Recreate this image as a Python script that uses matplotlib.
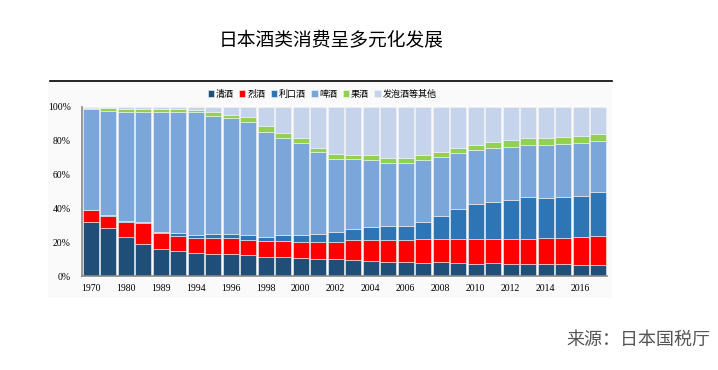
import numpy as np
import matplotlib
matplotlib.use("Agg")
import matplotlib.pyplot as plt
from matplotlib.patches import Rectangle
from matplotlib.lines import Line2D

plt.rcParams['font.family'] = ['Noto Sans CJK SC', 'DejaVu Sans']

# ── data (share of consumption, %) ─────────────────────────────────────
years = ['1970', '1975', '1980', '1985', '1989', '1990', '1994', '1995', '1996', '1997',
         '1998', '1999', '2000', '2001', '2002', '2003', '2004', '2005', '2006', '2007',
         '2008', '2009', '2010', '2011', '2012', '2013', '2014', '2015', '2016', '2017']
sake = [32.1, 28.2, 22.9, 18.7, 15.8, 14.8, 13.4, 13.2, 13.0, 12.2, 11.4, 11.0, 10.8, 10.3, 9.9,
        9.5, 8.9, 8.5, 8.3, 7.9, 8.1, 7.7, 7.3, 7.5, 7.3, 6.9, 6.9, 6.9, 6.5, 6.5]
spirits = [6.9, 7.5, 9.1, 12.8, 9.8, 9.1, 8.9, 9.5, 9.3, 9.3, 9.5, 9.7, 9.5, 10.0, 10.4,
           12.0, 12.6, 13.0, 13.2, 13.7, 14.0, 14.4, 14.4, 14.6, 14.8, 15.2, 15.8, 15.8, 16.8, 17.3]
liqueur = [0.3, 0.3, 0.3, 0.5, 0.4, 1.7, 2.0, 2.2, 2.4, 2.6, 2.4, 3.6, 4.0, 4.6, 5.7,
           6.3, 7.5, 8.1, 8.1, 10.4, 13.4, 17.5, 20.9, 21.7, 23.1, 24.5, 23.5, 24.2, 24.2, 25.7]
beer = [59.3, 61.6, 64.9, 65.0, 70.8, 71.2, 72.5, 69.8, 68.8, 66.9, 62.1, 57.4, 54.2, 48.3, 43.4,
        41.2, 39.8, 37.4, 37.3, 36.8, 35.1, 33.4, 32.2, 31.9, 31.3, 30.9, 31.1, 31.2, 31.2, 30.4]
fruit = [0.9, 1.6, 1.6, 1.6, 1.8, 1.8, 1.6, 2.1, 1.9, 2.8, 3.4, 3.1, 3.0, 2.5, 2.8,
         2.6, 2.8, 2.8, 2.7, 2.8, 2.8, 2.7, 2.9, 3.4, 3.8, 4.0, 4.4, 4.1, 4.1, 4.3]
other = [0.5, 0.8, 1.2, 1.4, 1.4, 1.4, 1.6, 3.2, 4.6, 6.2, 11.2, 15.2, 18.5, 24.3, 27.8,
         28.4, 28.4, 30.2, 30.4, 28.4, 26.6, 24.3, 22.3, 20.9, 19.7, 18.5, 18.3, 17.8, 17.2, 15.8]

series_names = ['清酒', '烈酒', '利口酒', '啤酒', '果酒', '发泡酒等其他']
series_vals = [sake, spirits, liqueur, beer, fruit, other]
colors = ['#1F4E79', '#FF0000', '#2E75B6', '#7AA6D9', '#92D050', '#C5D4EA']

# ── figure ─────────────────────────────────────────────────────────────
fig = plt.figure(figsize=(7.18, 3.70), dpi=100)
fig.patch.set_facecolor('white')

# faint chart panel + rule under the title
fig.patches.append(Rectangle((48 / 718, 1 - 298 / 370), 564 / 718, 217 / 370,
                             transform=fig.transFigure, facecolor='#FAFAFA',
                             edgecolor='none', zorder=-10))
fig.lines.append(Line2D([50 / 718, 612 / 718], [1 - 81 / 370, 1 - 81 / 370],
                        transform=fig.transFigure, color='black', lw=1.2))

fig.text(331 / 718, 1 - 40 / 370, '日本酒类消费呈多元化发展', ha='center', va='center',
         fontsize=13.5, color='black')
fig.text(710 / 718, 1 - 340 / 370, '来源：日本国税厅', ha='right', va='center',
         fontsize=13, color='#555555')

ax = fig.add_axes([82 / 718, 1 - 276 / 370, 525 / 718, 169 / 370])
ax.set_facecolor('none')
ax.set_zorder(1)

x = np.arange(len(years))
bottom = np.zeros(len(years))
for name, vals, c in zip(series_names, series_vals, colors):
    v = np.array(vals)
    ax.bar(x, v, bottom=bottom, width=0.9, color=c, edgecolor='#F4F4F4', linewidth=0.4,
           label=name, zorder=2)
    bottom += v

ax.set_xlim(-0.5, len(years) - 0.5)
ax.set_ylim(0, 100)
ax.set_yticks(np.arange(0, 101, 20))
ax.set_yticklabels([f'{v}%' for v in range(0, 101, 20)], fontsize=7, family='Liberation Serif')
ax.set_xticks(x[::2])
ax.set_xticklabels(years[::2], fontsize=7, family='Liberation Serif')
ax.tick_params(axis='both', length=0, pad=6)
ax.tick_params(axis='y', pad=8)

for s in ['top', 'right']:
    ax.spines[s].set_visible(False)
for s in ['left', 'bottom']:
    ax.spines[s].set_color('#888888')
    ax.spines[s].set_linewidth(1.2)

handles, labels = ax.get_legend_handles_labels()
fig.legend(handles, labels, loc='center', bbox_to_anchor=(322 / 718, 1 - 94 / 370), ncol=6,
           frameon=False, fontsize=6.5, handlelength=0.7, handleheight=0.7, handletextpad=0.2,
           columnspacing=0.6)

plt.savefig('out.png', dpi=100)
plt.close()
